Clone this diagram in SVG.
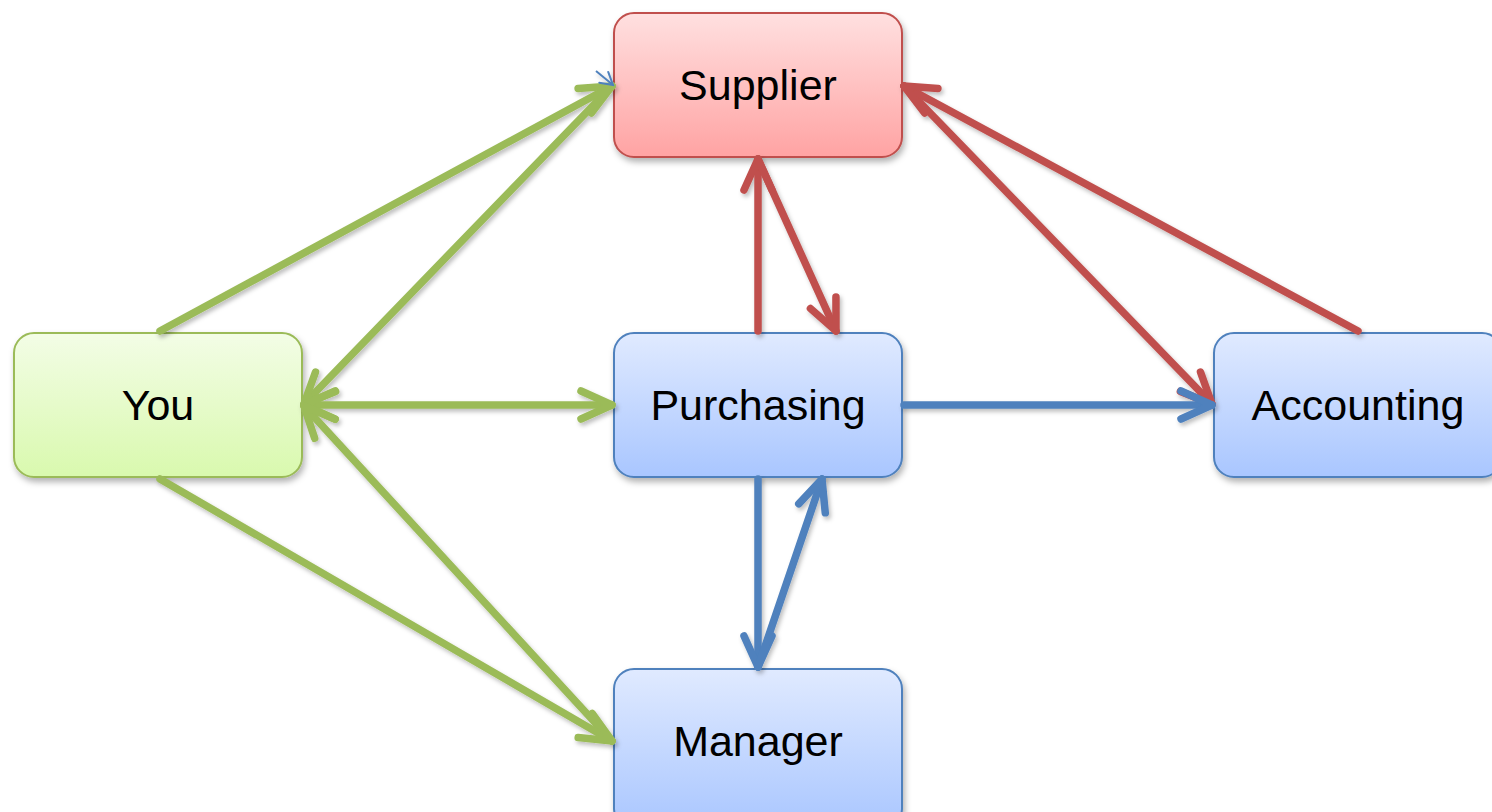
<svg xmlns="http://www.w3.org/2000/svg" width="1492" height="812" viewBox="0 0 1492 812">
<defs>
<linearGradient id="gRed" x1="0" y1="0" x2="0" y2="1"><stop offset="0" stop-color="#FFE0E0"/><stop offset="1" stop-color="#FFA3A3"/></linearGradient>
<linearGradient id="gGreen" x1="0" y1="0" x2="0" y2="1"><stop offset="0" stop-color="#F3FDE6"/><stop offset="1" stop-color="#D9F9AE"/></linearGradient>
<linearGradient id="gBlue" x1="0" y1="0" x2="0" y2="1"><stop offset="0" stop-color="#E0EAFF"/><stop offset="1" stop-color="#A9C6FF"/></linearGradient>
<filter id="sh" x="-20%" y="-20%" width="140%" height="140%"><feDropShadow dx="2" dy="4" stdDeviation="3" flood-color="#000" flood-opacity="0.3"/></filter>
<filter id="lsh" x="-20%" y="-20%" width="140%" height="140%"><feDropShadow dx="2" dy="3" stdDeviation="2" flood-color="#000" flood-opacity="0.25"/></filter>
<marker id="aG" markerUnits="userSpaceOnUse" markerWidth="50" markerHeight="50" viewBox="-40 -25 50 50" refX="0" refY="0" orient="auto-start-reverse" overflow="visible"><path d="M-31,-14 L0,0 L-31,14" fill="none" stroke="#9BBB59" stroke-width="7.5" stroke-linecap="round" stroke-linejoin="round"/></marker>
<marker id="aR" markerUnits="userSpaceOnUse" markerWidth="50" markerHeight="50" viewBox="-40 -25 50 50" refX="0" refY="0" orient="auto-start-reverse" overflow="visible"><path d="M-31,-14 L0,0 L-31,14" fill="none" stroke="#C0504D" stroke-width="7.5" stroke-linecap="round" stroke-linejoin="round"/></marker>
<marker id="aB" markerUnits="userSpaceOnUse" markerWidth="50" markerHeight="50" viewBox="-40 -25 50 50" refX="0" refY="0" orient="auto-start-reverse" overflow="visible"><path d="M-31,-14 L0,0 L-31,14" fill="none" stroke="#4F81BD" stroke-width="7.5" stroke-linecap="round" stroke-linejoin="round"/></marker>
<marker id="aT" markerUnits="userSpaceOnUse" markerWidth="20" markerHeight="20" viewBox="-15 -10 20 20" refX="0" refY="0" orient="auto" overflow="visible"><path d="M-12,-7 L0,0 L-12,7" fill="none" stroke="#4F81BD" stroke-width="2" stroke-linecap="round"/></marker>
</defs>
<style>
.node rect{stroke-width:2}
.red rect{fill:url(#gRed);stroke:#C0504D}
.green rect{fill:url(#gGreen);stroke:#9BBB59}
.blue rect{fill:url(#gBlue);stroke:#4F81BD}
.node text{font-family:"Liberation Sans",Arial,sans-serif;font-size:43px;fill:#000;text-anchor:middle}
.c line{stroke-width:7.5;stroke-linecap:round;fill:none}
.g{stroke:#9BBB59}
.r{stroke:#C0504D}
.b{stroke:#4F81BD}
</style>
<g id="node-supplier" class="node red"><rect x="614" y="13" width="288" height="144" rx="20" filter="url(#sh)"/><text x="758" y="100">Supplier</text></g>
<g id="node-you" class="node green"><rect x="14" y="333" width="288" height="144" rx="20" filter="url(#sh)"/><text x="158" y="420">You</text></g>
<g id="node-purchasing" class="node blue"><rect x="614" y="333" width="288" height="144" rx="20" filter="url(#sh)"/><text x="758" y="420">Purchasing</text></g>
<g id="node-accounting" class="node blue"><rect x="1214" y="333" width="288" height="144" rx="20" filter="url(#sh)"/><text x="1358" y="420">Accounting</text></g>
<g id="node-manager" class="node blue"><rect x="614" y="669" width="288" height="160" rx="20" filter="url(#sh)"/><text x="758" y="756">Manager</text></g>
<g id="connectors" class="c" filter="url(#lsh)">
<line class="g" x1="160" y1="331" x2="612" y2="86" marker-end="url(#aG)"/>
<line class="g" x1="612" y1="86" x2="304" y2="404" marker-end="url(#aG)"/>
<line class="g" x1="304" y1="405" x2="612" y2="405" marker-start="url(#aG)" marker-end="url(#aG)"/>
<line class="g" x1="612" y1="741" x2="304" y2="406" marker-end="url(#aG)"/>
<line class="g" x1="160" y1="479" x2="612" y2="741" marker-end="url(#aG)"/>
<line class="r" x1="758" y1="331" x2="758" y2="159" marker-end="url(#aR)"/>
<line class="r" x1="758" y1="159" x2="836" y2="331" marker-end="url(#aR)"/>
<line class="r" x1="904" y1="86" x2="1212" y2="404" marker-end="url(#aR)"/>
<line class="r" x1="1358" y1="331" x2="904" y2="86" marker-end="url(#aR)"/>
<line class="b" x1="904" y1="405" x2="1212" y2="405" marker-end="url(#aB)"/>
<line class="b" x1="758" y1="479" x2="758" y2="667" marker-end="url(#aB)"/>
<line class="b" x1="758" y1="667" x2="822" y2="479" marker-end="url(#aB)"/>
<path d="M596,71 L613,85" fill="none" stroke="#4F81BD" stroke-width="2" marker-end="url(#aT)"/>
</g>
</svg>
